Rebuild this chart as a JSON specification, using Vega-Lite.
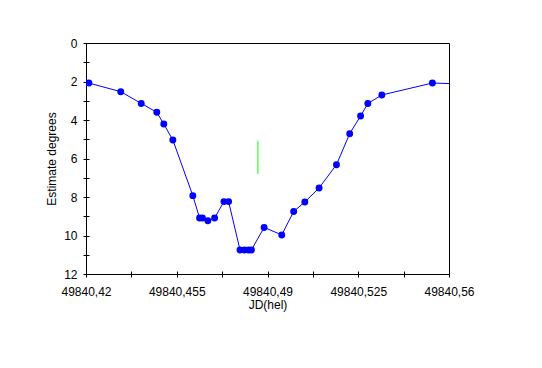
{
  "$schema": "https://vega.github.io/schema/vega-lite/v6.json",
  "width": 363,
  "height": 231,
  "autosize": {"type": "none"},
  "padding": {"left": 86, "top": 43, "right": 93, "bottom": 94},
  "background": "white",
  "config": {
    "view": {"stroke": "black", "strokeWidth": 1},
    "font": "Liberation Sans",
    "axis": {
      "labelFont": "Liberation Sans", "titleFont": "Liberation Sans",
      "labelFontSize": 12, "titleFontSize": 12, "titleFontWeight": "normal",
      "labelColor": "black", "titleColor": "black",
      "domainColor": "black", "tickColor": "black", "grid": false
    }
  },
  "datasets": {
    "obs": [
      {"jd": 49840.4211, "est": 2.08},
      {"jd": 49840.4334, "est": 2.53},
      {"jd": 49840.4413, "est": 3.14},
      {"jd": 49840.4473, "est": 3.60},
      {"jd": 49840.4500, "est": 4.21},
      {"jd": 49840.4535, "est": 5.04},
      {"jd": 49840.4612, "est": 7.93},
      {"jd": 49840.4638, "est": 9.09},
      {"jd": 49840.4649, "est": 9.09},
      {"jd": 49840.4670, "est": 9.23},
      {"jd": 49840.4696, "est": 9.09},
      {"jd": 49840.4732, "est": 8.24},
      {"jd": 49840.4750, "est": 8.24},
      {"jd": 49840.4794, "est": 10.75},
      {"jd": 49840.4811, "est": 10.75},
      {"jd": 49840.4827, "est": 10.75},
      {"jd": 49840.4838, "est": 10.75},
      {"jd": 49840.4887, "est": 9.58},
      {"jd": 49840.4955, "est": 9.97},
      {"jd": 49840.5001, "est": 8.75},
      {"jd": 49840.5044, "est": 8.26},
      {"jd": 49840.5099, "est": 7.53},
      {"jd": 49840.5166, "est": 6.32},
      {"jd": 49840.5217, "est": 4.71},
      {"jd": 49840.5259, "est": 3.79},
      {"jd": 49840.5287, "est": 3.14},
      {"jd": 49840.5341, "est": 2.70},
      {"jd": 49840.5536, "est": 2.08},
      {"jd": 49840.5700, "est": 2.15}
    ],
    "minimum": [
      {"jd": 49840.4863, "top": 5.08, "bottom": 6.8}
    ]
  },
  "resolve": {"axis": {"x": "independent", "y": "independent"}},
  "layer": [
    {
      "data": {"name": "obs"},
      "mark": {"type": "line", "color": "#0000ff", "strokeWidth": 1, "clip": true},
      "encoding": {
        "x": {
          "field": "jd", "type": "quantitative",
          "scale": {"domain": [49840.42, 49840.56], "nice": false, "zero": false},
          "axis": {
            "orient": "bottom",
            "title": "JD(hel)",
            "values": [49840.42, 49840.4375, 49840.455, 49840.4725, 49840.49, 49840.5075, 49840.525, 49840.5425, 49840.56],
            "labelExpr": "abs((datum.value-49840.42)/0.035 - round((datum.value-49840.42)/0.035)) < 0.01 ? replace(format(datum.value,'.3~f'),'.',',') : ''",
            "tickSize": 3, "labelPadding": 9, "titlePadding": 2,
            "labelFlush": false, "labelOverlap": false
          }
        },
        "y": {
          "field": "est", "type": "quantitative",
          "scale": {"domain": [0, 12], "reverse": true, "nice": false},
          "axis": {
            "orient": "left",
            "title": "Estimate degrees",
            "values": [0,1,2,3,4,5,6,7,8,9,10,11,12],
            "labelExpr": "datum.value % 2 == 0 ? datum.value : ''",
            "tickSize": 3, "labelPadding": 6, "titlePadding": 5,
            "labelOverlap": false, "labelFlush": false
          }
        }
      }
    },
    {
      "data": {"name": "obs"},
      "mark": {"type": "point", "filled": true, "color": "#0000ff", "opacity": 1, "size": 48, "shape": "circle", "clip": true},
      "encoding": {
        "x": {
          "field": "jd", "type": "quantitative",
          "axis": {
            "orient": "bottom",
            "title": null, "labels": false, "domain": false,
            "values": [49840.42, 49840.4375, 49840.455, 49840.4725, 49840.49, 49840.5075, 49840.525, 49840.5425, 49840.56],
            "tickSize": -3
          }
        },
        "y": {
          "field": "est", "type": "quantitative",
          "axis": {
            "orient": "left",
            "title": null, "labels": false, "domain": false,
            "values": [0,1,2,3,4,5,6,7,8,9,10,11,12],
            "tickSize": -3
          }
        }
      }
    },
    {
      "data": {"name": "minimum"},
      "mark": {"type": "rule", "color": "#00ff00", "strokeWidth": 1},
      "encoding": {
        "x": {"field": "jd", "type": "quantitative", "axis": null},
        "y": {"field": "top", "type": "quantitative", "axis": null},
        "y2": {"field": "bottom"}
      }
    }
  ]
}
